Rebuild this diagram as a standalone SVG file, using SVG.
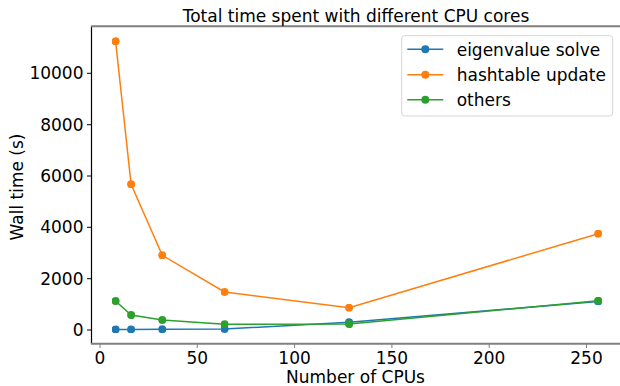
<svg xmlns="http://www.w3.org/2000/svg" width="620" height="386" viewBox="0 0 620 386">
<defs>
<style>
text{font-family:"DejaVu Sans",sans-serif;font-size:17px;fill:#000}
.yt{text-anchor:end}
.xt{text-anchor:middle}
.tick{stroke:#000;stroke-width:1}
.blue{stroke:#1f77b4;fill:none;stroke-width:1.5}
.orange{stroke:#ff7f0e;fill:none;stroke-width:1.5}
.green{stroke:#2ca02c;fill:none;stroke-width:1.5}
</style>
<marker id="mb" viewBox="0 0 10 10" refX="5" refY="5" markerWidth="8" markerHeight="8" markerUnits="userSpaceOnUse"><circle cx="5" cy="5" r="5" fill="#1f77b4"/></marker>
<marker id="mo" viewBox="0 0 10 10" refX="5" refY="5" markerWidth="8" markerHeight="8" markerUnits="userSpaceOnUse"><circle cx="5" cy="5" r="5" fill="#ff7f0e"/></marker>
<marker id="mg" viewBox="0 0 10 10" refX="5" refY="5" markerWidth="8" markerHeight="8" markerUnits="userSpaceOnUse"><circle cx="5" cy="5" r="5" fill="#2ca02c"/></marker>
</defs>
<rect width="620" height="386" fill="#fff"/>
<g id="axes">
<line x1="91.5" y1="26" x2="91.5" y2="344" stroke="#000" stroke-width="1.2"/>
<line x1="91" y1="26.3" x2="620" y2="26.3" stroke="#808080" stroke-width="2"/>
<line x1="91" y1="343.7" x2="620" y2="343.7" stroke="#808080" stroke-width="2"/>
<g class="tick">
<line x1="87" y1="330" x2="91" y2="330"/><line x1="87" y1="278.7" x2="91" y2="278.7"/><line x1="87" y1="227.3" x2="91" y2="227.3"/><line x1="87" y1="176" x2="91" y2="176"/><line x1="87" y1="124.7" x2="91" y2="124.7"/><line x1="87" y1="73.3" x2="91" y2="73.3"/>
</g>
<g stroke="#808080" stroke-width="1">
<line x1="100" y1="344" x2="100" y2="348"/><line x1="197.3" y1="344" x2="197.3" y2="348"/><line x1="294.6" y1="344" x2="294.6" y2="348"/><line x1="391.9" y1="344" x2="391.9" y2="348"/><line x1="489.2" y1="344" x2="489.2" y2="348"/><line x1="586.5" y1="344" x2="586.5" y2="348"/>
</g>
<text class="yt" x="83.5" y="336">0</text>
<text class="yt" x="83.5" y="284.7">2000</text>
<text class="yt" x="83.5" y="233.3">4000</text>
<text class="yt" x="83.5" y="182">6000</text>
<text class="yt" x="83.5" y="130.7">8000</text>
<text class="yt" x="83.5" y="79.3">10000</text>
<text class="xt" x="100" y="364">0</text>
<text class="xt" x="197.3" y="364">50</text>
<text class="xt" x="294.6" y="364">100</text>
<text class="xt" x="391.9" y="364">150</text>
<text class="xt" x="489.2" y="364">200</text>
<text class="xt" x="586.5" y="364">250</text>
<text class="xt" x="355.5" y="383">Number of CPUs</text>
<text class="xt" transform="translate(23,187) rotate(-90)">Wall time (s)</text>
<text class="xt" x="356" y="21.5">Total time spent with different CPU cores</text>
</g>
<g id="connectors">
<polyline id="eigen" class="blue" marker-start="url(#mb)" marker-mid="url(#mb)" marker-end="url(#mb)" points="115.6,329.4 131.1,329.4 162.3,329.3 224.5,329 349.1,322.3 598.2,301.4"/>
<polyline id="hash" class="orange" marker-start="url(#mo)" marker-mid="url(#mo)" marker-end="url(#mo)" points="115.6,41.3 131.1,184.3 162.3,255.3 224.5,292 349.1,307.7 598.2,233.7"/>
<polyline id="others" class="green" marker-start="url(#mg)" marker-mid="url(#mg)" marker-end="url(#mg)" points="115.6,301 131.1,315 162.3,320 224.5,324.3 349.1,324 598.2,300.7"/>
</g>
<g id="legend">
<rect x="401.7" y="35.7" width="211" height="80.3" rx="3" fill="#fff" fill-opacity="0.8" stroke="#d6d6d6" stroke-width="1"/>
<line class="blue" x1="407.3" y1="49.3" x2="443.3" y2="49.3"/>
<circle cx="425.3" cy="49.3" r="4" fill="#1f77b4"/>
<line class="orange" x1="407.3" y1="74.7" x2="443.3" y2="74.7"/>
<circle cx="425.3" cy="74.7" r="4" fill="#ff7f0e"/>
<line class="green" x1="407.3" y1="99.7" x2="443.3" y2="99.7"/>
<circle cx="425.3" cy="99.7" r="4" fill="#2ca02c"/>
<text x="456.7" y="55.5">eigenvalue solve</text>
<text x="456.7" y="81">hashtable update</text>
<text x="456.7" y="106">others</text>
</g>
</svg>
